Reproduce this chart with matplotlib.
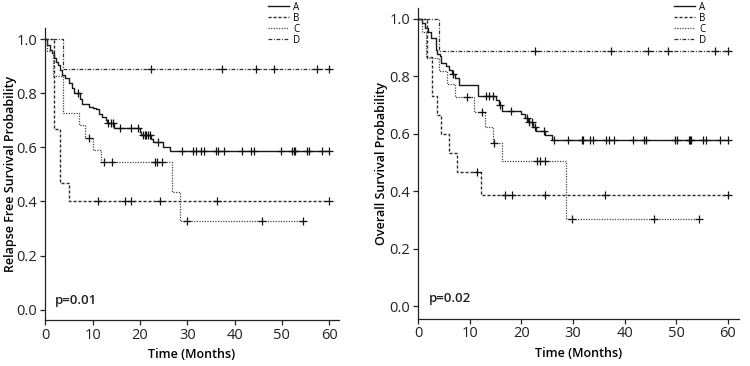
import numpy as np
import matplotlib
matplotlib.use("Agg")
import matplotlib.pyplot as plt

plt.rcParams['font.family'] = ['Open Sans', 'DejaVu Sans']

# ---- Relapse free survival (left) ----
rfs_a_t = [0, 0.4, 0.9, 1.3, 1.8, 2.2, 2.6, 3.1, 3.6, 4.2, 5.0, 5.6, 6.1, 7.4, 7.8,
           9.2, 10.0, 10.7, 11.3, 12.0, 12.7, 13.0, 14.6, 19.9, 20.3, 22.4, 22.8, 24.9, 26.3]
rfs_a_s = [1.0, 0.98, 0.96, 0.947, 0.929, 0.917, 0.904, 0.886, 0.867, 0.855, 0.836, 0.818,
           0.80, 0.78, 0.762, 0.75, 0.745, 0.74, 0.725, 0.713, 0.70, 0.69, 0.672, 0.655,
           0.645, 0.632, 0.62, 0.60, 0.585]
rfs_a_cens = [6.8, 13.3, 13.9, 14.3, 15.7, 18.2, 19.6, 20.6, 21.0, 21.3, 21.6, 22.2, 23.8,
              28.8, 31.3, 31.8, 33.0, 33.6, 36.1, 36.6, 37.8, 41.5, 43.4, 44.1, 49.8,
              52.1, 52.5, 52.8, 55.3, 55.8, 58.6, 60]

rfs_b_t = [0, 1.7, 3.0, 5.0]
rfs_b_s = [1.0, 0.667, 0.467, 0.40]
rfs_b_cens = [11.1, 16.8, 18.2, 24.3, 36.2, 60]

rfs_c_t = [0, 0.3, 1.5, 3.7, 7.0, 8.4, 10.1, 11.7, 26.8, 28.5]
rfs_c_s = [1.0, 0.955, 0.864, 0.727, 0.682, 0.636, 0.591, 0.545, 0.436, 0.327]
rfs_c_cens = [9.2, 12.3, 14.0, 23.1, 23.7, 24.6, 29.9, 45.8, 54.4]

rfs_d_t = [0, 3.7]
rfs_d_s = [1.0, 0.889]
rfs_d_cens = [22.4, 37.3, 44.6, 48.4, 57.4, 60]

# ---- Overall survival (right) ----
os_a_t = [0, 0.8, 1.3, 1.8, 2.4, 3.35, 3.6, 4.2, 4.5, 5.4, 6.0, 6.5, 7.2, 7.9, 11.6,
          15.0, 15.6, 16.3, 20.0, 20.6, 21.3, 22.3, 22.8, 24.6, 25.9]
os_a_s = [1.0, 0.985, 0.968, 0.956, 0.933, 0.892, 0.877, 0.87, 0.846, 0.835, 0.822,
          0.808, 0.794, 0.77, 0.733, 0.718, 0.70, 0.68, 0.668, 0.656, 0.643, 0.625,
          0.61, 0.595, 0.58]
os_a_cens = [6.8, 13.1, 13.8, 14.4, 15.8, 18.0, 21.0, 21.5, 22.0, 22.6, 24.3, 26.4,
             29.1, 31.7, 32.0, 33.3, 33.9, 36.4, 36.9, 38.0, 41.6, 43.7, 44.2, 49.8,
             50.1, 52.4, 52.6, 52.8, 55.3, 55.8, 58.6, 60]

os_b_t = [0, 1.6, 2.6, 3.6, 4.5, 5.9, 7.5, 12.1]
os_b_s = [1.0, 0.867, 0.733, 0.667, 0.60, 0.533, 0.467, 0.389]
os_b_cens = [11.4, 16.9, 18.2, 24.5, 36.3, 60]

os_c_t = [0, 0.7, 1.5, 4.0, 5.6, 7.1, 10.9, 13.0, 14.5, 16.2, 28.6]
os_c_s = [1.0, 0.955, 0.864, 0.818, 0.773, 0.727, 0.677, 0.625, 0.568, 0.505, 0.303]
os_c_cens = [9.4, 12.4, 14.6, 23.0, 23.7, 24.6, 29.9, 45.8, 54.4]

os_d_t = [0, 4.0]
os_d_s = [1.0, 0.889]
os_d_cens = [22.6, 37.4, 44.6, 48.5, 57.5, 60]

groups = ['A', 'B', 'C', 'D']
styles = {
    'A': dict(color='#1a1a1a', ls='-', lw=1.0),
    'B': dict(color='#2a2a2a', ls=(0, (2.2, 1.4)), lw=1.0),
    'C': dict(color='#444444', ls=(0, (1.0, 1.1)), lw=0.9),
    'D': dict(color='#333333', ls=(0, (3, 1.3, 0.8, 1.3)), lw=0.9),
}


def km(ax, t, s, cens, g):
    t = list(t)
    s = list(s)
    end = max(max(cens), t[-1])
    st = styles[g]
    line, = ax.step(t + [end], s + [s[-1]], where='post', label=g,
                    color=st['color'], linestyle=st['ls'], lw=st['lw'])
    idx = np.searchsorted(t, cens, side='right') - 1
    cy = np.array(s)[idx]
    ax.plot(cens, cy, '+', color='#111111', ms=6, mew=0.9)
    return line


fig = plt.figure(figsize=(7.5, 3.66), dpi=100)
ax1 = fig.add_axes([0.06, 0.1257, 0.392, 0.797])
ax2 = fig.add_axes([0.557, 0.1292, 0.4284, 0.849])

panels = [
    (ax1, [(rfs_a_t, rfs_a_s, rfs_a_cens), (rfs_b_t, rfs_b_s, rfs_b_cens),
           (rfs_c_t, rfs_c_s, rfs_c_cens), (rfs_d_t, rfs_d_s, rfs_d_cens)],
     'Relapse Free Survival Probability', 'p=0.01', (-0.038, 1.04), 62.1,
     (0.4, 0.995), -0.096),
    (ax2, [(os_a_t, os_a_s, os_a_cens), (os_b_t, os_b_s, os_b_cens),
           (os_c_t, os_c_s, os_c_cens), (os_d_t, os_d_s, os_d_cens)],
     'Overall Survival Probability', 'p=0.02', (-0.043, 1.038), 62.2,
     (0.942, 0.995), -0.092),
]

for ax, series, ylab, ptxt, ylim, xmax, legpos, labx in panels:
    handles = []
    for g, (t, s, c) in zip(groups, series):
        handles.append(km(ax, t, s, c, g))
    ax.set_xlim(-0.1, xmax)
    ax.set_ylim(*ylim)
    ax.set_xticks([0, 10, 20, 30, 40, 50, 60])
    ax.set_yticks([0.0, 0.2, 0.4, 0.6, 0.8, 1.0])
    ax.set_yticklabels(['0.0', '0.2', '0.4', '0.6', '0.8', '1.0'])
    for sp in ['top', 'right']:
        ax.spines[sp].set_visible(False)
    for sp in ['left', 'bottom']:
        ax.spines[sp].set_linewidth(0.9)
        ax.spines[sp].set_color('#222222')
    ax.tick_params(direction='out', length=3.5, width=0.9, labelsize=10.5,
                   colors='#222222', pad=2)
    ax.set_xlabel('Time (Months)', fontsize=9, fontweight='semibold', labelpad=4)
    ax.set_ylabel(ylab, fontsize=9, fontweight='semibold')
    ax.yaxis.set_label_coords(labx, 0.5)
    ax.text(0.035, 0.045, ptxt, transform=ax.transAxes, fontsize=9.5,
            fontweight='semibold', color='#222222', va='bottom')
    ax.legend(handles=handles, loc='upper right', bbox_to_anchor=legpos,
              bbox_transform=fig.transFigure, frameon=False, fontsize=7,
              handlelength=2.2, handletextpad=0.4, labelspacing=0.0,
              borderpad=0, borderaxespad=0)

fig.savefig('out.png', dpi=100)
